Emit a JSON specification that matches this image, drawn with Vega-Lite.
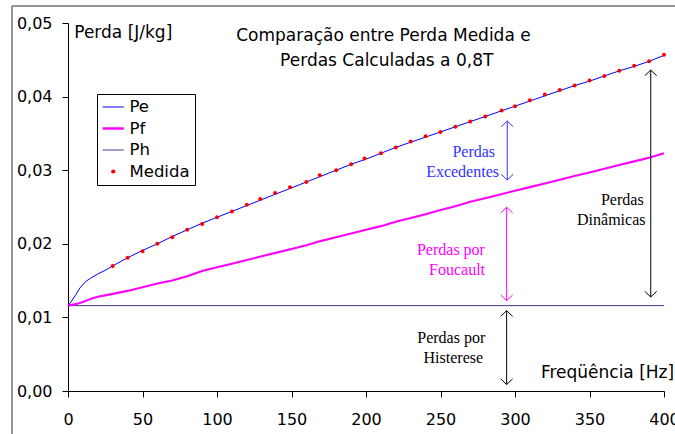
{
  "$schema": "https://vega.github.io/schema/vega-lite/v6.json",
  "width": 596,
  "height": 368,
  "autosize": {"type": "none"},
  "padding": {"left": 68, "top": 23, "right": 11, "bottom": 43},
  "background": "white",
  "config": {
    "view": {"stroke": null},
    "axis": {"domainColor": "#000", "tickColor": "#000", "labelColor": "#000", "labelFont": "DejaVu Sans", "labelFontSize": 16, "grid": false, "domainWidth": 1, "tickWidth": 1}
  },
  "datasets": {
    "series": [
      {"f": 0, "P": 0.0116, "s": "Ph"}, {"f": 400, "P": 0.0116, "s": "Ph"},
      {"f": 0, "P": 0.0116, "s": "Pf"}, {"f": 5, "P": 0.0118, "s": "Pf"}, {"f": 10, "P": 0.0121, "s": "Pf"}, {"f": 15, "P": 0.0125, "s": "Pf"}, {"f": 20, "P": 0.0128, "s": "Pf"}, {"f": 30, "P": 0.0132, "s": "Pf"}, {"f": 40, "P": 0.0136, "s": "Pf"}, {"f": 50, "P": 0.0141, "s": "Pf"}, {"f": 60, "P": 0.0146, "s": "Pf"}, {"f": 70, "P": 0.0150, "s": "Pf"}, {"f": 80, "P": 0.0156, "s": "Pf"}, {"f": 90, "P": 0.0163, "s": "Pf"}, {"f": 100, "P": 0.0168, "s": "Pf"}, {"f": 110, "P": 0.0173, "s": "Pf"}, {"f": 120, "P": 0.0178, "s": "Pf"}, {"f": 130, "P": 0.0183, "s": "Pf"}, {"f": 140, "P": 0.0188, "s": "Pf"}, {"f": 150, "P": 0.0193, "s": "Pf"}, {"f": 160, "P": 0.0198, "s": "Pf"}, {"f": 170, "P": 0.0204, "s": "Pf"}, {"f": 180, "P": 0.0209, "s": "Pf"}, {"f": 190, "P": 0.0214, "s": "Pf"}, {"f": 200, "P": 0.0219, "s": "Pf"}, {"f": 210, "P": 0.0224, "s": "Pf"}, {"f": 220, "P": 0.0230, "s": "Pf"}, {"f": 230, "P": 0.0235, "s": "Pf"}, {"f": 240, "P": 0.0240, "s": "Pf"}, {"f": 250, "P": 0.0246, "s": "Pf"}, {"f": 260, "P": 0.0251, "s": "Pf"}, {"f": 270, "P": 0.0257, "s": "Pf"}, {"f": 280, "P": 0.0262, "s": "Pf"}, {"f": 290, "P": 0.0267, "s": "Pf"}, {"f": 300, "P": 0.0272, "s": "Pf"}, {"f": 310, "P": 0.0277, "s": "Pf"}, {"f": 320, "P": 0.0282, "s": "Pf"}, {"f": 330, "P": 0.0287, "s": "Pf"}, {"f": 340, "P": 0.0292, "s": "Pf"}, {"f": 350, "P": 0.0297, "s": "Pf"}, {"f": 360, "P": 0.0302, "s": "Pf"}, {"f": 370, "P": 0.0307, "s": "Pf"}, {"f": 380, "P": 0.0312, "s": "Pf"}, {"f": 390, "P": 0.0317, "s": "Pf"}, {"f": 400, "P": 0.0323, "s": "Pf"},
      {"f": 0, "P": 0.0116, "s": "Pe"}, {"f": 2, "P": 0.0121, "s": "Pe"}, {"f": 5, "P": 0.0130, "s": "Pe"}, {"f": 8, "P": 0.0140, "s": "Pe"}, {"f": 12, "P": 0.0149, "s": "Pe"}, {"f": 15, "P": 0.0153, "s": "Pe"}, {"f": 20, "P": 0.0159, "s": "Pe"}, {"f": 25, "P": 0.0164, "s": "Pe"}, {"f": 30, "P": 0.0170, "s": "Pe"}, {"f": 40, "P": 0.0181, "s": "Pe"}, {"f": 50, "P": 0.0191, "s": "Pe"}, {"f": 60, "P": 0.0200, "s": "Pe"}, {"f": 70, "P": 0.0210, "s": "Pe"}, {"f": 80, "P": 0.0219, "s": "Pe"}, {"f": 90, "P": 0.0228, "s": "Pe"}, {"f": 100, "P": 0.0236, "s": "Pe"}, {"f": 110, "P": 0.0244, "s": "Pe"}, {"f": 120, "P": 0.0252, "s": "Pe"}, {"f": 130, "P": 0.0260, "s": "Pe"}, {"f": 140, "P": 0.0268, "s": "Pe"}, {"f": 150, "P": 0.0276, "s": "Pe"}, {"f": 160, "P": 0.0284, "s": "Pe"}, {"f": 170, "P": 0.0292, "s": "Pe"}, {"f": 180, "P": 0.0300, "s": "Pe"}, {"f": 190, "P": 0.0308, "s": "Pe"}, {"f": 200, "P": 0.0315, "s": "Pe"}, {"f": 210, "P": 0.0323, "s": "Pe"}, {"f": 220, "P": 0.0331, "s": "Pe"}, {"f": 230, "P": 0.0338, "s": "Pe"}, {"f": 240, "P": 0.0345, "s": "Pe"}, {"f": 250, "P": 0.0352, "s": "Pe"}, {"f": 260, "P": 0.0359, "s": "Pe"}, {"f": 270, "P": 0.0366, "s": "Pe"}, {"f": 280, "P": 0.0373, "s": "Pe"}, {"f": 290, "P": 0.0380, "s": "Pe"}, {"f": 300, "P": 0.0387, "s": "Pe"}, {"f": 310, "P": 0.0394, "s": "Pe"}, {"f": 320, "P": 0.0401, "s": "Pe"}, {"f": 330, "P": 0.0408, "s": "Pe"}, {"f": 340, "P": 0.0415, "s": "Pe"}, {"f": 350, "P": 0.0421, "s": "Pe"}, {"f": 360, "P": 0.0428, "s": "Pe"}, {"f": 370, "P": 0.0435, "s": "Pe"}, {"f": 380, "P": 0.0441, "s": "Pe"}, {"f": 390, "P": 0.0448, "s": "Pe"}, {"f": 400, "P": 0.0456, "s": "Pe"},
      {"f": 30, "P": 0.0170, "s": "Medida"}, {"f": 40, "P": 0.0181, "s": "Medida"}, {"f": 50, "P": 0.0190, "s": "Medida"}, {"f": 60, "P": 0.0200, "s": "Medida"}, {"f": 70, "P": 0.0209, "s": "Medida"}, {"f": 80, "P": 0.0219, "s": "Medida"}, {"f": 90, "P": 0.0227, "s": "Medida"}, {"f": 100, "P": 0.0236, "s": "Medida"}, {"f": 110, "P": 0.0244, "s": "Medida"}, {"f": 120, "P": 0.0253, "s": "Medida"}, {"f": 129, "P": 0.0261, "s": "Medida"}, {"f": 139, "P": 0.0269, "s": "Medida"}, {"f": 149, "P": 0.0277, "s": "Medida"}, {"f": 160, "P": 0.0284, "s": "Medida"}, {"f": 169, "P": 0.0293, "s": "Medida"}, {"f": 180, "P": 0.0300, "s": "Medida"}, {"f": 190, "P": 0.0308, "s": "Medida"}, {"f": 199, "P": 0.0316, "s": "Medida"}, {"f": 210, "P": 0.0323, "s": "Medida"}, {"f": 220, "P": 0.0331, "s": "Medida"}, {"f": 230, "P": 0.0339, "s": "Medida"}, {"f": 240, "P": 0.0346, "s": "Medida"}, {"f": 250, "P": 0.0352, "s": "Medida"}, {"f": 260, "P": 0.0359, "s": "Medida"}, {"f": 270, "P": 0.0366, "s": "Medida"}, {"f": 280, "P": 0.0373, "s": "Medida"}, {"f": 291, "P": 0.0381, "s": "Medida"}, {"f": 300, "P": 0.0387, "s": "Medida"}, {"f": 310, "P": 0.0395, "s": "Medida"}, {"f": 320, "P": 0.0403, "s": "Medida"}, {"f": 330, "P": 0.0409, "s": "Medida"}, {"f": 340, "P": 0.0415, "s": "Medida"}, {"f": 350, "P": 0.0422, "s": "Medida"}, {"f": 360, "P": 0.0428, "s": "Medida"}, {"f": 370, "P": 0.0435, "s": "Medida"}, {"f": 380, "P": 0.0442, "s": "Medida"}, {"f": 390, "P": 0.0448, "s": "Medida"}, {"f": 400, "P": 0.0457, "s": "Medida"}
    ],
    "arrows": [
      {"g": "Excedentes", "f": 294.8, "P": 0.03668, "P2": 0.02867},
      {"g": "Foucault", "f": 294.4, "P": 0.02496, "P2": 0.01227},
      {"g": "Histerese", "f": 294.4, "P": 0.01091, "P2": 0.00088},
      {"g": "Dinamicas", "f": 391.1, "P": 0.04361, "P2": 0.01277}
    ],
    "heads": [
      {"g": "Excedentes", "f": 294.8, "P": 0.03668, "dir": "up"},
      {"g": "Excedentes", "f": 294.8, "P": 0.02867, "dir": "down"},
      {"g": "Foucault", "f": 294.4, "P": 0.02496, "dir": "up"},
      {"g": "Foucault", "f": 294.4, "P": 0.01227, "dir": "down"},
      {"g": "Histerese", "f": 294.4, "P": 0.01091, "dir": "up"},
      {"g": "Histerese", "f": 294.4, "P": 0.00088, "dir": "down"},
      {"g": "Dinamicas", "f": 391.1, "P": 0.04361, "dir": "up"},
      {"g": "Dinamicas", "f": 391.1, "P": 0.01277, "dir": "down"}
    ],
    "notes": [
      {"g": "Excedentes", "f": 272.3, "P": 0.0325, "text": "Perdas"},
      {"g": "Excedentes", "f": 264.8, "P": 0.0298, "text": "Excedentes"},
      {"g": "Foucault", "f": 257.0, "P": 0.0191, "text": "Perdas por"},
      {"g": "Foucault", "f": 261.1, "P": 0.0165, "text": "Foucault"},
      {"g": "Histerese", "f": 257.2, "P": 0.0072, "text": "Perdas por"},
      {"g": "Histerese", "f": 258.6, "P": 0.0045, "text": "Histerese"},
      {"g": "Dinamicas", "f": 372.0, "P": 0.0259, "text": "Perdas"},
      {"g": "Dinamicas", "f": 364.6, "P": 0.0232, "text": "Dinâmicas"}
    ],
    "titles": [
      {"f": 211.7, "P": 0.0482, "text": "Comparação entre Perda Medida e"},
      {"f": 213.9, "P": 0.0449, "text": "Perdas Calculadas a 0,8T"},
      {"f": 37.1, "P": 0.0487, "text": "Perda [J/kg]"},
      {"f": 362.1, "P": 0.0024, "text": "Freqüência [Hz]"}
    ],
    "frame": [
      {"k": "v", "f": -37.6, "P": 0.0523, "P2": -0.02},
      {"k": "h", "f": -37.6, "f2": 430, "P": 0.0523}
    ]
  },
  "encoding": {
    "x": {"field": "f", "type": "quantitative", "scale": {"domain": [0, 400], "nice": false, "zero": false},
      "axis": {"title": null, "values": [0, 50, 100, 150, 200, 250, 300, 350, 400], "tickSize": 6, "labelPadding": 14, "labelFlush": false, "labelOverlap": false}},
    "y": {"field": "P", "type": "quantitative", "scale": {"domain": [0, 0.05], "nice": false},
      "axis": {"title": null, "values": [0, 0.01, 0.02, 0.03, 0.04, 0.05], "tickSize": 6, "labelPadding": 10, "labelExpr": "replace(format(datum.value, '.2f'), '.', ',')"}}
  },
  "layer": [
    {
      "data": {"name": "frame"},
      "transform": [{"filter": "datum.k === 'v'"}],
      "mark": {"type": "rule", "color": "#707070", "strokeWidth": 1.5},
      "encoding": {"y2": {"field": "P2"}}
    },
    {
      "data": {"name": "frame"},
      "transform": [{"filter": "datum.k === 'h'"}],
      "mark": {"type": "rule", "color": "#707070", "strokeWidth": 1.5},
      "encoding": {"x2": {"field": "f2"}}
    },
    {
      "data": {"name": "series"},
      "transform": [{"filter": "datum.s === 'Ph'"}],
      "mark": {"type": "line", "strokeWidth": 1},
      "encoding": {
        "color": {"field": "s", "type": "nominal",
          "scale": {"domain": ["Pe", "Pf", "Ph", "Medida"], "range": ["#0000ff", "#ff00ff", "#3a3a9e", "#ff0000"]},
          "legend": {
            "title": null, "orient": "none", "legendX": 29, "legendY": 71,
            "strokeColor": "#000", "fillColor": "#fff", "padding": 5, "cornerRadius": 0,
            "labelFont": "DejaVu Sans", "labelFontSize": 16.5, "labelColor": "#000", "labelLimit": 0,
            "symbolType": "stroke", "symbolSize": 441, "symbolOffset": 3, "labelOffset": 8,
            "clipHeight": 16, "rowPadding": 4.5,
            "encode": {"symbols": {"update": {
              "shape": {"signal": "datum.value === 'Medida' ? 'circle' : 'stroke'"},
              "size": {"signal": "datum.value === 'Medida' ? 18 : 441"},
              "strokeWidth": {"signal": "datum.value === 'Pf' ? 2.5 : (datum.value === 'Medida' ? 0 : 1.2)"},
              "fill": {"signal": "datum.value === 'Medida' ? '#ff0000' : 'transparent'"},
              "stroke": {"signal": "scale('color', datum.value)"},
              "opacity": {"value": 1}
            }}}
          }
        }
      }
    },
    {
      "data": {"name": "series"},
      "transform": [{"filter": "datum.s === 'Pf'"}],
      "mark": {"type": "line", "strokeWidth": 2.1},
      "encoding": {"color": {"field": "s", "type": "nominal"}}
    },
    {
      "data": {"name": "series"},
      "transform": [{"filter": "datum.s === 'Pe'"}],
      "mark": {"type": "line", "strokeWidth": 1},
      "encoding": {"color": {"field": "s", "type": "nominal"}}
    },
    {
      "data": {"name": "series"},
      "transform": [{"filter": "datum.s === 'Medida'"}],
      "mark": {"type": "point", "filled": true, "size": 16, "opacity": 1},
      "encoding": {"color": {"field": "s", "type": "nominal"}}
    },
    {
      "data": {"name": "arrows"},
      "mark": {"type": "rule", "strokeWidth": 1},
      "encoding": {
        "y2": {"field": "P2"},
        "stroke": {"field": "g", "type": "nominal", "scale": {"domain": ["Excedentes", "Foucault", "Histerese", "Dinamicas"], "range": ["#3333ff", "#ff00ff", "#000000", "#000000"]}, "legend": null}
      }
    },
    {
      "data": {"name": "heads"},
      "mark": {"type": "point", "filled": false, "size": 144, "strokeWidth": 1, "opacity": 1},
      "encoding": {
        "shape": {"field": "dir", "type": "nominal", "scale": {"domain": ["up", "down"], "range": ["M -1 0.95 L 0 0 L 1 0.95", "M -1 -0.95 L 0 0 L 1 -0.95"]}, "legend": null},
        "stroke": {"field": "g", "type": "nominal", "legend": null}
      }
    },
    {
      "data": {"name": "notes"},
      "mark": {"type": "text", "font": "Liberation Serif", "fontSize": 16, "align": "center", "baseline": "middle"},
      "encoding": {
        "text": {"field": "text"},
        "fill": {"field": "g", "type": "nominal", "scale": {"domain": ["Excedentes", "Foucault", "Histerese", "Dinamicas"], "range": ["#3333ff", "#ff00ff", "#000000", "#000000"]}, "legend": null}
      }
    },
    {
      "data": {"name": "titles"},
      "mark": {"type": "text", "font": "DejaVu Sans", "fontSize": 17, "align": "center", "baseline": "middle", "color": "#000"},
      "encoding": {"text": {"field": "text"}}
    }
  ]
}
